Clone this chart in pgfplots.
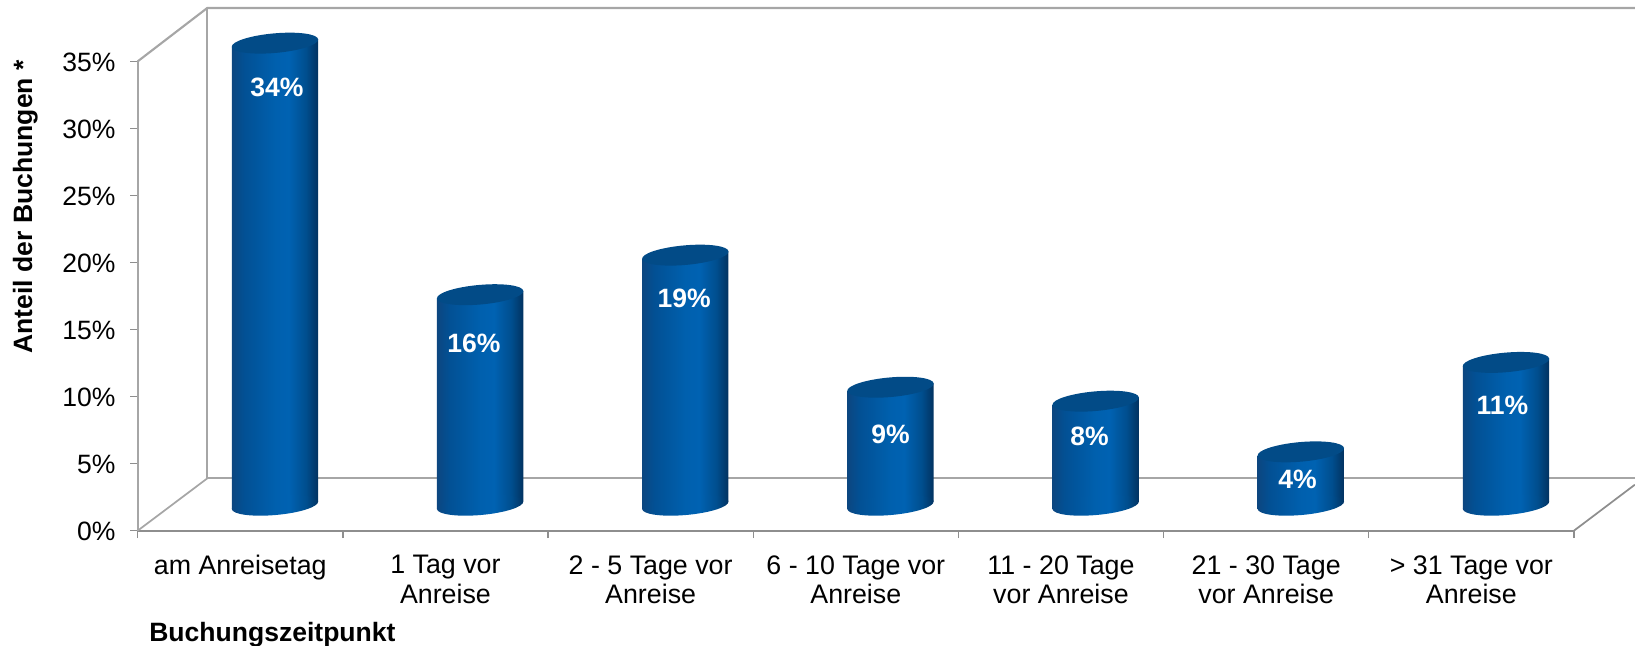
\documentclass[border=0pt]{standalone}
\usepackage{pgfplots}
\pgfplotsset{compat=1.18}
\usepackage{fontspec}
\setmainfont{Liberation Sans}
\definecolor{framegray}{HTML}{A6A6A6}
\definecolor{axisgray}{HTML}{8E8E8E}
\definecolor{bartop}{HTML}{024B87}
\pgfdeclarehorizontalshading{cyl}{100bp}{
  rgb(0bp)=(0.047,0.275,0.502);
  rgb(25bp)=(0.047,0.275,0.502);
  rgb(32bp)=(0.008,0.314,0.580);
  rgb(50bp)=(0,0.376,0.682);
  rgb(58bp)=(0,0.384,0.698);
  rgb(68bp)=(0,0.306,0.557);
  rgb(75bp)=(0.008,0.196,0.376);
  rgb(100bp)=(0.008,0.196,0.376)}
\pgfdeclareplotmark{cyltop}{%
  \pgfsetfillcolor{bartop}%
  \pgfpathellipse{\pgfpointorigin}{\pgfpoint{32.4pt}{2.84pt}}{\pgfpoint{-0.64pt}{7.32pt}}%
  \pgfusepath{fill}}
\pgfdeclareplotmark{cylbottom}{%
  \pgfpathellipse{\pgfpointorigin}{\pgfpoint{32.4pt}{2.84pt}}{\pgfpoint{-0.64pt}{7.32pt}}%
  \pgfshadepath{cyl}{0}\pgfusepath{discard}}
\pgfplotstableread{
x   y
0.5 34.46
1.5 15.7
2.5 18.65
3.5 8.8
4.5 7.76
5.5 3.98
6.5 10.65
}\bardata
\pgfplotsset{cylbar/.style={ybar,bar width=64.7pt,bar shift=0pt,draw=none,shading=cyl,xshift=26pt,yshift=#1,yslant=0.0875,forget plot}}
\begin{document}
\begin{tikzpicture}
\begin{axis}[
  at={(0,0)},anchor=origin,
  scale only axis,width=1077.3pt,height=352pt,
  xmin=0,xmax=7,ymin=0,ymax=35,clip=false,
  axis x line*=bottom,axis y line*=left,
  x axis line style={draw=axisgray,line width=1.5pt},
  y axis line style={draw=framegray,line width=1.5pt},
  xtick={0.5,1.5,2.5,3.5,4.5,5.5,6.5},
  xticklabels={am Anreisetag,1 Tag vor\\Anreise,2 - 5 Tage vor\\Anreise,6 - 10 Tage vor\\Anreise,11 - 20 Tage\\vor Anreise,21 - 30 Tage\\vor Anreise,> 31 Tage vor\\Anreise},
  xtick style={draw=none},
  minor xtick={0,1,2,3,4,5,6,7},
  minor tick length=5.6pt,
  minor x tick style={draw=axisgray,line width=1pt},
  x tick label style={font=\fontsize{20.1}{22.3}\selectfont,align=center,anchor=north,inner sep=0pt,yshift=-12.75pt},
  ytick={0,5,10,15,20,25,30,35},
  yticklabels={0\%,5\%,10\%,15\%,20\%,25\%,30\%,35\%},
  tick align=outside,tick pos=left,
  major tick length=5.6pt,
  y tick style={draw=axisgray,line width=1pt},
  y tick label style={font=\fontsize{19.9}{22.5}\selectfont,anchor=east,inner sep=0pt,xshift=-10.8pt,yshift=-0.75pt},
  xlabel={\bfseries Buchungszeitpunkt},
  x label style={font=\fontsize{19.9}{22.5}\selectfont,at={(axis description cs:0.0079,-0.2362)},anchor=base west,inner sep=0pt},
  ylabel={\bfseries Anteil der Buchungen *},
  y label style={font=\fontsize{19.9}{22.5}\selectfont,at={(axis description cs:-0.0782,0.690)},anchor=center,inner sep=0pt},
]
% 3-D frame
\addplot[framegray,line width=1.6pt,forget plot] coordinates {(0,35) (0.339,38.98) (7.297,38.98)};
\addplot[framegray,line width=1.6pt,forget plot] coordinates {(0.339,38.98) (0.339,3.9) (7.297,3.9)};
\addplot[framegray,line width=1.3pt,forget plot] coordinates {(0,0) (0.339,3.9)};
\addplot[axisgray,line width=1.3pt,forget plot] coordinates {(7,0) (7.297,3.43)};
% cylinders
\addplot[only marks,mark=cylbottom,xshift=26pt,yshift=19.1pt,forget plot] coordinates {
 (0.5,0) (1.5,0) (2.5,0) (3.5,0) (4.5,0) (5.5,0) (6.5,0)};
\addplot[cylbar=12.37pt] coordinates {(0.5,34.46)};
\addplot[cylbar=-1.10pt] coordinates {(1.5,15.7)};
\addplot[cylbar=-14.56pt] coordinates {(2.5,18.65)};
\addplot[cylbar=-28.03pt] coordinates {(3.5,8.8)};
\addplot[cylbar=-41.50pt] coordinates {(4.5,7.76)};
\addplot[cylbar=-54.96pt] coordinates {(5.5,3.98)};
\addplot[cylbar=-68.43pt] coordinates {(6.5,10.65)};
\addplot[only marks,mark=cyltop,xshift=26pt,yshift=19.1pt,forget plot] table[x=x,y=y] {\bardata};
% labels
\addplot[draw=none,xshift=26pt,yshift=-0.8pt,forget plot,
  nodes near coords,point meta=explicit symbolic,
  every node near coord/.append style={font=\fontsize{19.9}{22.5}\selectfont\bfseries,text=white,anchor=center,inner sep=0pt}]
 coordinates {(0.51,33.16)[34\%] (1.47,14.02)[16\%] (2.495,17.38)[19\%] (3.5,7.26)[9\%] (4.47,7.09)[8\%] (5.484,3.91)[4\%] (6.482,9.45)[11\%]};
\end{axis}
\pgfresetboundingbox
\useasboundingbox (-103.275pt,-86.475pt) rectangle (1123.0pt,398.025pt);
\end{tikzpicture}
\end{document}
